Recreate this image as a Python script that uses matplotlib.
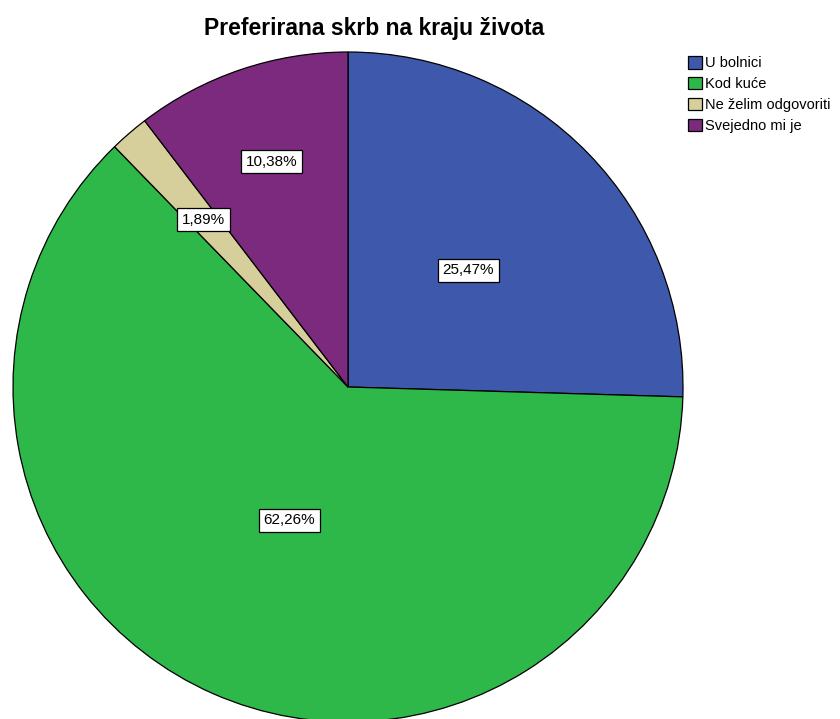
import numpy as np
import matplotlib.pyplot as plt

plt.rcParams['font.family'] = ['Liberation Sans', 'DejaVu Sans']

categories = ['U bolnici', 'Kod kuće', 'Ne želim odgovoriti', 'Svejedno mi je']
values = [25.47, 62.26, 1.89, 10.38]
colors = ['#3E58AC', '#2EB84A', '#D6CF9B', '#7B2A7E']
label_dist = [0.50, 0.435, 0.66, 0.71]

fig = plt.figure(figsize=(8.4, 7.19), dpi=100)
# pie centre ~ (348, 387) px, radius ~ 335 px
ax = fig.add_axes([13 / 840, (332 - 335) / 719, 670 / 840, 670 / 719])

wedges, _ = ax.pie(values, colors=colors, startangle=90, counterclock=False,
                   radius=1, wedgeprops=dict(edgecolor='black', linewidth=0.9))
ax.set_xlim(-1, 1)
ax.set_ylim(-1, 1)
ax.set_aspect('equal')

for w, v, d in zip(wedges, values, label_dist):
    ang = np.deg2rad((w.theta1 + w.theta2) / 2)
    ax.text(d * np.cos(ang), d * np.sin(ang), f"{v:.2f}%".replace('.', ','),
            ha='center', va='center', fontsize=11,
            bbox=dict(boxstyle='square,pad=0.3', fc='white', ec='black', lw=0.9))

for w in wedges:
    w.set_clip_on(False)

fig.text(374 / 840, 1 - 29 / 719, 'Preferirana skrb na kraju života',
         ha='center', va='center', fontsize=16.5, fontweight='bold')

handles = [plt.Rectangle((0, 0), 1, 1, fc=c, ec='black', lw=0.9) for c in colors]
fig.legend(handles, categories, loc='upper left', bbox_to_anchor=(688 / 840, 1 - 56 / 719),
           frameon=False, fontsize=10.5, handlelength=0.95, handleheight=0.95,
           handletextpad=0.2, labelspacing=0.45, borderpad=0, borderaxespad=0)

fig.savefig('out.png', dpi=100)
